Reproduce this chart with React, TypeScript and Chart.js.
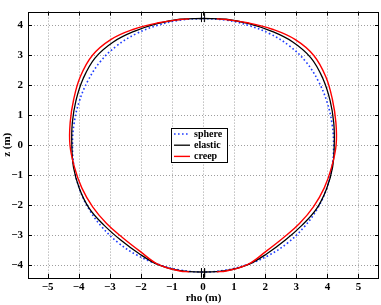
import React, { useEffect, useRef } from "react";
import { Chart, registerables } from "chart.js";

Chart.register(...registerables);

// ---- data: meridian profiles, as polar samples
// (angle from the rho axis in degrees, distance from the origin in m),
// right half only; the left half is its mirror image.
const sphereAngle = [90, 80, 70, 60, 50, 40, 30, 20, 10, 0, -10, -20, -30, -40, -50, -60, -70, -80, -90];
const sphereR = [4.22, 4.23, 4.25, 4.29, 4.32, 4.32, 4.28, 4.24, 4.21, 4.2, 4.21, 4.23, 4.24, 4.24, 4.24, 4.23, 4.22, 4.22, 4.22];

const elasticAngle = [90, 80, 70, 60, 50, 40, 30, 20, 10, 0, -10, -20, -30, -40, -50, -60, -70, -80, -90];
const elasticR = [4.22, 4.26, 4.31, 4.39, 4.49, 4.53, 4.45, 4.35, 4.27, 4.22, 4.23, 4.23, 4.22, 4.15, 4.12, 4.15, 4.23, 4.24, 4.22];

const creepAngle = [84, 80, 70, 60, 50, 40, 30, 20, 10, 0, -10, -20, -30, -40, -50, -60, -70, -80, -84];
const creepR = [4.23, 4.25, 4.33, 4.46, 4.6, 4.65, 4.56, 4.43, 4.34, 4.28, 4.2, 4.15, 4.1, 4.05, 4.02, 4.07, 4.22, 4.25, 4.24];

// small axis markers at the poles
const markRho = [-0.05, -0.05, null, 0.05, 0.05, null, -0.05, -0.05, null, 0.05, 0.05];
const markZ = [4.1, 4.4, null, 4.1, 4.4, null, -4.1, -4.4, null, -4.1, -4.4];

const seriesLabels = ["sphere", "elastic", "creep"];
const xMin = -5.63, xMax = 5.66, yMin = -4.42, yMax = 4.45;

type P = { x: number | null; y: number | null };

function profile(angle: number[], r: number[], closed: boolean): P[] {
  const right: P[] = angle.map((a, i) => {
    const t = (a * Math.PI) / 180;
    return { x: r[i] * Math.cos(t), y: r[i] * Math.sin(t) };
  });
  const left: P[] = right.map((p) => ({ x: -(p.x as number), y: p.y })).reverse();
  if (closed) return [...right, ...left.slice(1, -1), right[0]];
  return [...right, { x: 0, y: null }, ...left];
}

const FONT = "'Liberation Serif', 'Times New Roman', serif";
const minus = (v: number) => (v < 0 ? "\u2212" + Math.abs(v) : String(v));

const framePlugin = {
  id: "frame",
  beforeDatasetsDraw(chart: any) {
    const { ctx, chartArea, scales } = chart;
    const { left, right, top, bottom } = chartArea;
    ctx.save();
    ctx.strokeStyle = "rgba(0,0,0,0.38)";
    ctx.lineWidth = 1;
    ctx.setLineDash([1, 2]);
    scales.x.ticks.forEach((t: any) => {
      const px = Math.round(scales.x.getPixelForValue(t.value)) + 0.5;
      ctx.beginPath(); ctx.moveTo(px, top); ctx.lineTo(px, bottom); ctx.stroke();
    });
    scales.y.ticks.forEach((t: any) => {
      const py = Math.round(scales.y.getPixelForValue(t.value)) + 0.5;
      ctx.beginPath(); ctx.moveTo(left, py); ctx.lineTo(right, py); ctx.stroke();
    });
    ctx.restore();
  },
  afterDatasetsDraw(chart: any) {
    const { ctx, chartArea, scales } = chart;
    const { left, right, top, bottom } = chartArea;
    ctx.save();
    ctx.setLineDash([]);
    ctx.strokeStyle = "#000";
    ctx.lineWidth = 1;
    ctx.strokeRect(Math.round(left) + 0.5, Math.round(top) + 0.5, Math.round(right - left) - 1, Math.round(bottom - top));
    const tl = 4;
    scales.x.ticks.forEach((t: any) => {
      const px = Math.round(scales.x.getPixelForValue(t.value)) + 0.5;
      ctx.beginPath();
      ctx.moveTo(px, bottom); ctx.lineTo(px, bottom - tl);
      ctx.moveTo(px, top); ctx.lineTo(px, top + tl);
      ctx.stroke();
    });
    scales.y.ticks.forEach((t: any) => {
      const py = Math.round(scales.y.getPixelForValue(t.value)) + 0.5;
      ctx.beginPath();
      ctx.moveTo(left, py); ctx.lineTo(left + tl, py);
      ctx.moveTo(right, py); ctx.lineTo(right - tl, py);
      ctx.stroke();
    });

    // legend box
    const bx = 171, by = 128, bw = 56, bh = 34;
    ctx.fillStyle = "#fff";
    ctx.fillRect(bx, by, bw, bh);
    ctx.strokeStyle = "#000";
    ctx.lineWidth = 1;
    ctx.strokeRect(bx + 0.5, by + 0.5, bw, bh);
    ctx.font = `bold 10px ${FONT}`;
    ctx.textBaseline = "middle";
    ctx.textAlign = "left";
    const ds = chart.data.datasets;
    seriesLabels.forEach((lab, i) => {
      const d = ds.find((q: any) => q.label === lab);
      const yy = by + 6 + i * 11.2;
      ctx.save();
      ctx.strokeStyle = d.borderColor;
      ctx.lineWidth = d.borderWidth;
      ctx.setLineDash(d.borderDash || []);
      ctx.beginPath(); ctx.moveTo(bx + 3, yy); ctx.lineTo(bx + 19, yy); ctx.stroke();
      ctx.restore();
      ctx.fillStyle = "#000";
      ctx.fillText(lab, bx + 23, yy);
    });
    ctx.restore();
  },
};

export default function App() {
  const ref = useRef<HTMLCanvasElement | null>(null);
  useEffect(() => {
    if (!ref.current) return;
    const chart = new Chart(ref.current, {
      type: "scatter",
      data: {
        datasets: [
          {
            label: "creep",
            data: profile(creepAngle, creepR, false) as any,
            showLine: true,
            borderColor: "rgb(255,0,0)",
            borderWidth: 1.4,
            pointRadius: 0,
            tension: 0.4,
            fill: false,
          },
          {
            label: "elastic",
            data: profile(elasticAngle, elasticR, true) as any,
            showLine: true,
            borderColor: "#000",
            borderWidth: 1.3,
            pointRadius: 0,
            tension: 0.4,
            fill: false,
          },
          {
            label: "sphere",
            data: profile(sphereAngle, sphereR, true) as any,
            showLine: true,
            borderColor: "rgb(30,60,255)",
            borderWidth: 1.6,
            borderDash: [1.6, 2.4],
            pointRadius: 0,
            tension: 0.4,
            fill: false,
          },
          {
            label: "marks",
            data: markRho.map((r, i) => ({ x: r, y: markZ[i] })) as any,
            showLine: true,
            borderColor: "#000",
            borderWidth: 1,
            pointRadius: 0,
            tension: 0,
            fill: false,
          },
        ],
      },
      options: {
        animation: false,
        responsive: false,
        devicePixelRatio: 1,
        layout: { padding: { top: 2, right: 2, left: 0, bottom: 0 } },
        plugins: { legend: { display: false }, tooltip: { enabled: false } },
        scales: {
          x: {
            type: "linear",
            min: xMin,
            max: xMax,
            grid: { display: false, drawTicks: false },
            border: { display: false },
            ticks: {
              stepSize: 1,
              includeBounds: false,
              padding: 3,
              color: "#000",
              font: { family: FONT, size: 11, weight: "bold" },
              callback: (v: any) => minus(Number(v)),
            },
            title: {
              display: true,
              text: "rho (m)",
              color: "#000",
              font: { family: FONT, size: 11, weight: "bold" },
              padding: { top: 0, bottom: 0 },
            },
            afterFit: (s: any) => { s.height = 27; },
          },
          y: {
            type: "linear",
            min: yMin,
            max: yMax,
            grid: { display: false, drawTicks: false },
            border: { display: false },
            ticks: {
              stepSize: 1,
              includeBounds: false,
              padding: 5,
              color: "#000",
              font: { family: FONT, size: 11, weight: "bold" },
              callback: (v: any) => minus(Number(v)),
            },
            title: {
              display: true,
              text: "z (m)",
              color: "#000",
              font: { family: FONT, size: 11, weight: "bold" },
              padding: { top: 1, bottom: 0 },
            },
            afterFit: (s: any) => { s.width = 28; },
          },
        },
      },
      plugins: [framePlugin],
    });
    return () => chart.destroy();
  }, []);
  return (
    <canvas
      ref={ref}
      width={381}
      height={305}
      style={{ position: "fixed", left: 0, top: 0, width: 381, height: 305, background: "#fff" }}
    />
  );
}
